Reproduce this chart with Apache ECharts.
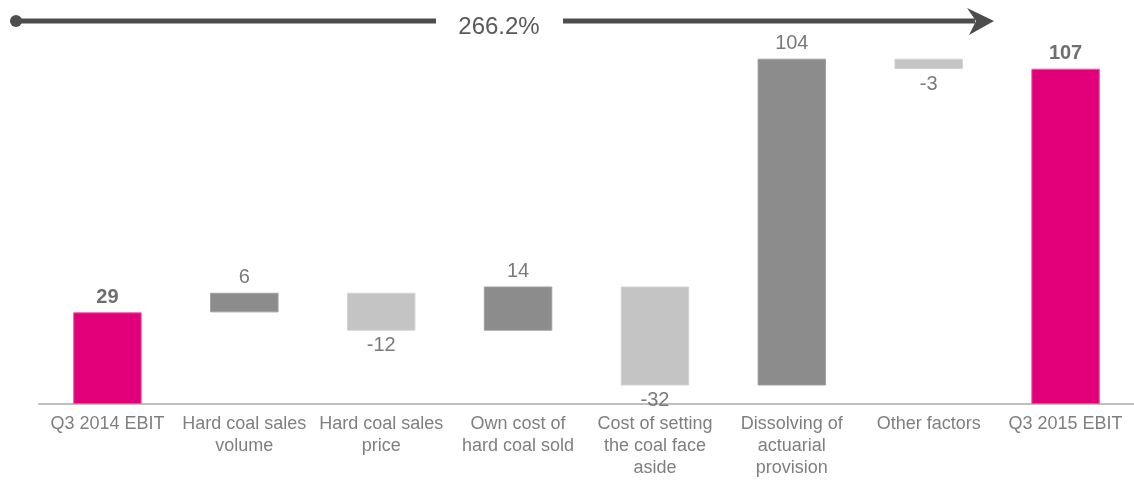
<!DOCTYPE html>
<html>
<head>
<meta charset="utf-8">
<script src="https://cdn.jsdelivr.net/npm/echarts@6/dist/echarts.min.js"></script>
<style>
html,body{margin:0;padding:0;background:#fff;}
#chart{width:1134px;height:480px;}
</style>
</head>
<body>
<div id="chart"></div>
<script>
// ---- data ----
const categories = [
  'Q3 2014 EBIT',
  'Hard coal sales\nvolume',
  'Hard coal sales\nprice',
  'Own cost of\nhard coal sold',
  'Cost of setting\nthe coal face\naside',
  'Dissolving of\nactuarial\nprovision',
  'Other factors',
  'Q3 2015 EBIT'
];
// unrounded values; labels show rounded values
const values = [29.25, 6.25, -12.1, 14.1, -31.6, 104.3, -3.3, 107.0];
const kinds = ['total', 'delta', 'delta', 'delta', 'delta', 'delta', 'delta', 'total'];
const growthLabel = '266.2%';

// ---- build waterfall ----
const PINK = '#E2007A', DARK = '#8C8C8C', LIGHT = '#C4C4C4';
const baseData = [], barData = [];
let running = 0;
values.forEach((v, i) => {
  if (kinds[i] === 'total') {
    baseData.push(0);
    running = v;
    barData.push({
      value: v,
      itemStyle: { color: PINK, borderColor: '#EE4FA3', borderWidth: 1 },
      label: { show: true, position: 'top', fontWeight: 'bold', color: '#6E6E6E', formatter: String(Math.round(v)) }
    });
  } else {
    const start = running;
    const end = running + v;
    baseData.push(Math.min(start, end));
    running = end;
    const pos = v >= 0;
    barData.push({
      value: Math.abs(v),
      itemStyle: pos ? { color: DARK, borderColor: '#9E9E9E', borderWidth: 1 } : { color: LIGHT, borderColor: '#D2D2D2', borderWidth: 1 },
      label: { show: true, position: pos ? 'top' : 'bottom', color: '#7A7A7A', formatter: String(Math.round(v)) }
    });
  }
});

const chart = echarts.init(document.getElementById('chart'));
chart.setOption({
  animation: false,
  textStyle: { fontFamily: 'Liberation Sans, Arial, sans-serif' },
  grid: { left: 39, right: -3, top: 28, bottom: 76 },
  xAxis: {
    type: 'category',
    data: categories,
    axisTick: { show: false },
    axisLine: { lineStyle: { color: '#BFBFBF', width: 2 } },
    axisLabel: { interval: 0, fontSize: 18, color: '#7F7F7F', lineHeight: 22, margin: 9 }
  },
  yAxis: { type: 'value', min: 0, max: 120, show: false, splitLine: { show: false } },
  series: [
    {
      type: 'bar', stack: 'w', data: baseData, barWidth: '50%',
      itemStyle: { color: 'transparent' }, emphasis: { disabled: true }, silent: true
    },
    {
      type: 'bar', stack: 'w', data: barData, barWidth: '50%',
      label: { fontSize: 20, distance: 5 }
    }
  ],
  graphic: [
    { type: 'line', shape: { x1: 16, y1: 21, x2: 436, y2: 21 }, style: { stroke: '#4D4D4D', lineWidth: 5 } },
    { type: 'line', shape: { x1: 563, y1: 21, x2: 975, y2: 21 }, style: { stroke: '#4D4D4D', lineWidth: 5 } },
    { type: 'circle', shape: { cx: 16, cy: 21, r: 6 }, style: { fill: '#4D4D4D' } },
    { type: 'polygon', shape: { points: [[967, 8], [994, 21], [969, 35], [976, 21]] }, style: { fill: '#4D4D4D' } },
    { type: 'text', x: 499, y: 27, style: { text: growthLabel, fontSize: 24, fill: '#595959', align: 'center', verticalAlign: 'middle', fontFamily: 'Liberation Sans, Arial, sans-serif' } }
  ]
});
</script>
</body>
</html>
